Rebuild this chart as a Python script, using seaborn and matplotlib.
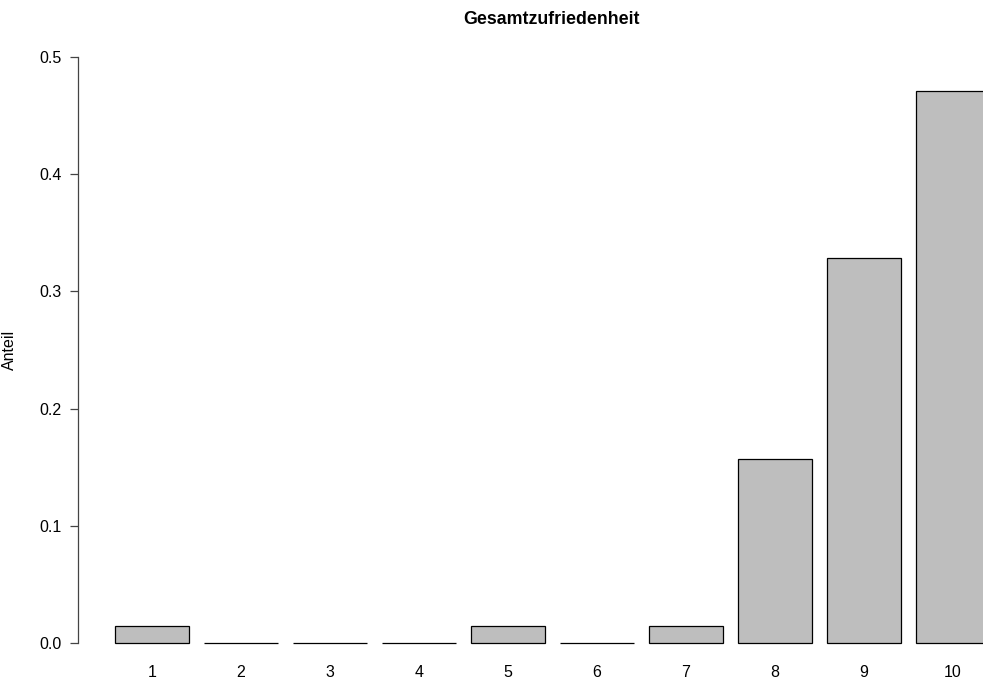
import seaborn as sns
import matplotlib.pyplot as plt
import pandas as pd

# Anteil der Antworten je Skalenwert (n = 70)
categories = ['1', '2', '3', '4', '5', '6', '7', '8', '9', '10']
shares = [0.0143, 0.0, 0.0, 0.0, 0.0143, 0.0, 0.0143, 0.1571, 0.3286, 0.4714]
y_ticks = [0.0, 0.1, 0.2, 0.3, 0.4, 0.5]

df = pd.DataFrame({'score': categories, 'share': shares})

sns.set_style('white')
plt.rcParams['font.family'] = ['Liberation Sans', 'DejaVu Sans']
plt.rcParams['text.color'] = 'black'
plt.rcParams['axes.labelcolor'] = 'black'

W, H = 983, 679
fig = plt.figure(figsize=(W / 100, H / 100), dpi=100)
ax = fig.add_axes([78 / W, (H - 666.4) / H, (W - 78) / W, (666.4 - 33.6) / H])

sns.barplot(data=df, x='score', y='share', color='#bebebe', saturation=1,
            width=1 / 1.2, edgecolor='black', linewidth=0.9, ax=ax)

ax.set_xlim(-0.831, 9 + 30 / 89)
ax.set_ylim(-0.02, 0.52)

for side in ['top', 'right', 'bottom']:
    ax.spines[side].set_visible(False)
ax.spines['left'].set_bounds(0, 0.5)
ax.spines['left'].set_color('#444444')
ax.spines['left'].set_linewidth(0.9)

ax.set_yticks(y_ticks)
ax.set_yticklabels([f'{t:.1f}' for t in y_ticks])
ax.tick_params(axis='y', length=6, width=0.9, color='#444444', pad=6,
               labelsize=11.5, labelcolor='black', left=True)
ax.tick_params(axis='x', length=0, pad=-1, labelsize=11.5, labelcolor='black')

ax.set_xlabel('')
ax.set_ylabel('Anteil', fontsize=11.5, color='black')
ax.yaxis.set_label_coords((17 - 78) / (W - 78), 0.5)

fig.text(552 / W, 1 - 19 / H, 'Gesamtzufriedenheit', ha='center', va='center',
         fontsize=12.8, fontweight='bold', color='black')

plt.savefig('out.png', dpi=100)
